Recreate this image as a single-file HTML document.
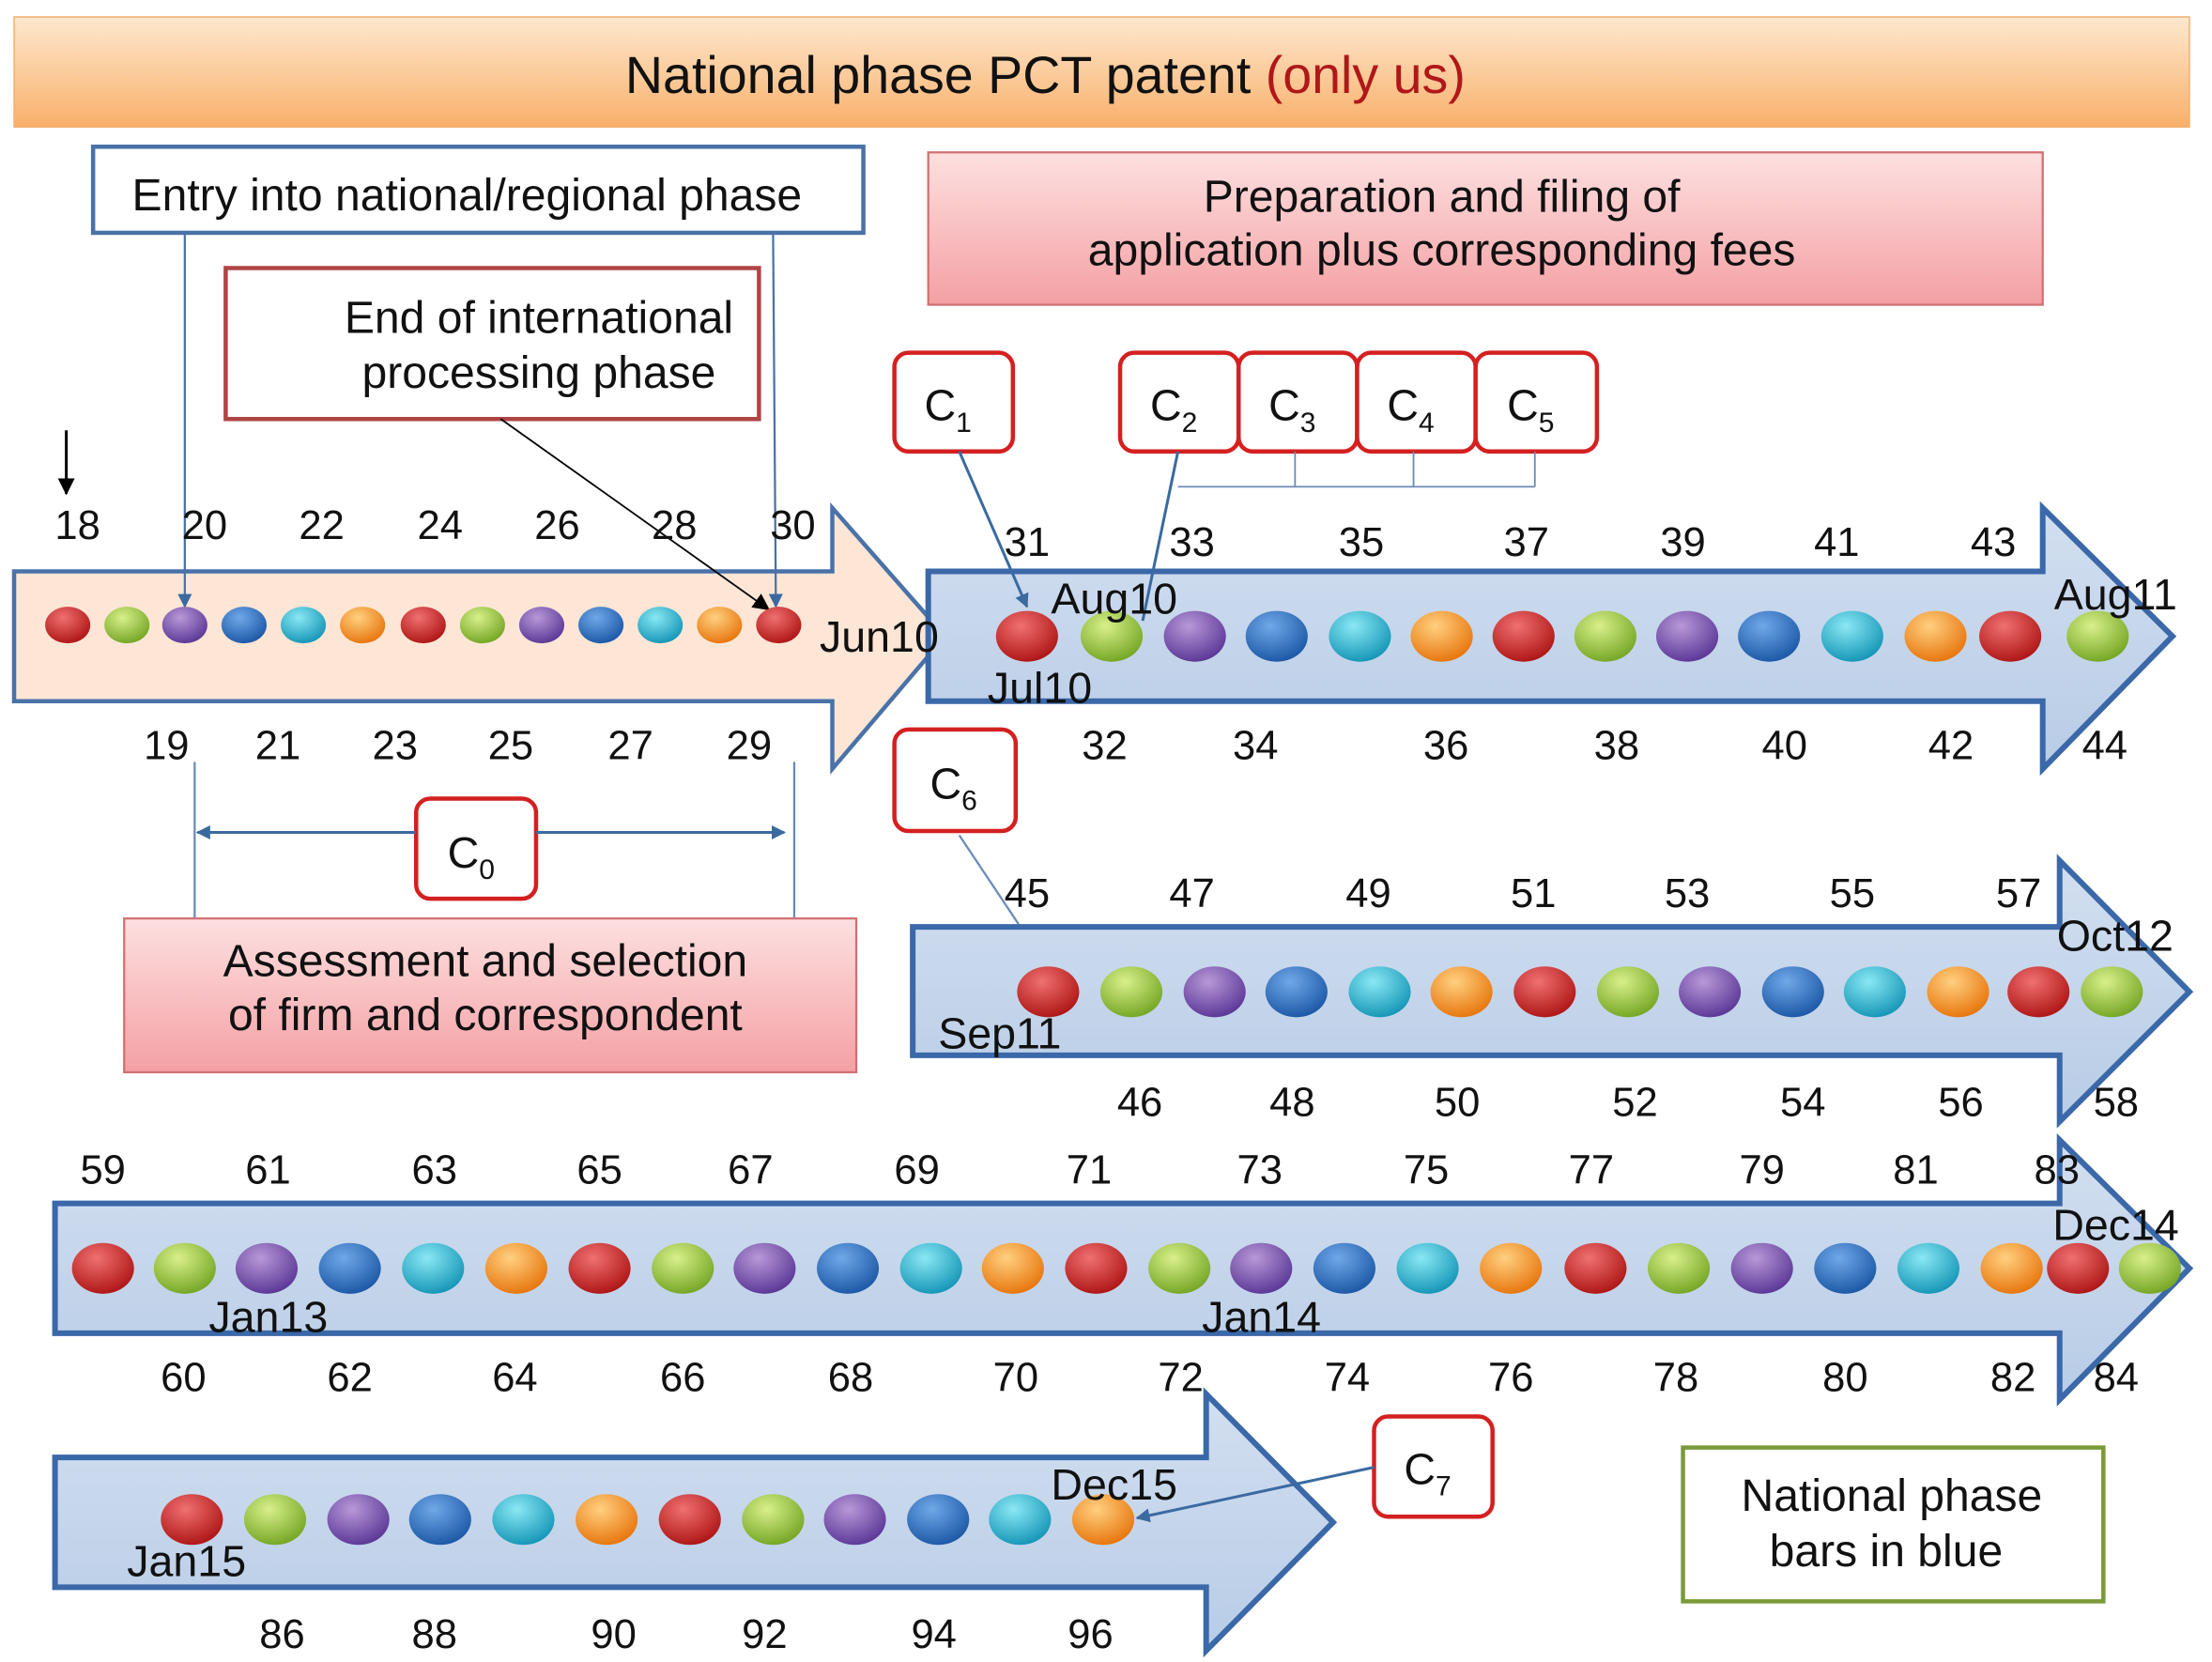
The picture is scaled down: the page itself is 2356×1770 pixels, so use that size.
<!DOCTYPE html>
<html><head><meta charset="utf-8"><style>
html,body{margin:0;padding:0;background:#fff}
svg{display:block}
text{font-family:"Liberation Sans",Arial,sans-serif;fill:#111}
</style></head><body>
<svg width="2356" height="1770" viewBox="0 0 1568 1178" preserveAspectRatio="none" xmlns="http://www.w3.org/2000/svg">
<defs>
<linearGradient id="tg" x1="0" y1="0" x2="0" y2="1"><stop offset="0" stop-color="#fde8d0"/><stop offset="1" stop-color="#f9b06a"/></linearGradient>
<linearGradient id="pg" x1="0" y1="0" x2="0" y2="1"><stop offset="0" stop-color="#fde0e0"/><stop offset="1" stop-color="#f4a0a4"/></linearGradient>
<linearGradient id="bg" x1="0" y1="0" x2="0" y2="1"><stop offset="0" stop-color="#d2dff0"/><stop offset="1" stop-color="#b8cce6"/></linearGradient>
<radialGradient id="cr" cx="0.4" cy="0.3" r="0.7"><stop offset="0" stop-color="#f07070"/><stop offset="1" stop-color="#b01818"/></radialGradient>
<radialGradient id="cg" cx="0.4" cy="0.3" r="0.7"><stop offset="0" stop-color="#d8f08a"/><stop offset="1" stop-color="#78a828"/></radialGradient>
<radialGradient id="cp" cx="0.4" cy="0.3" r="0.7"><stop offset="0" stop-color="#b898d8"/><stop offset="1" stop-color="#5e3a98"/></radialGradient>
<radialGradient id="cb" cx="0.4" cy="0.3" r="0.7"><stop offset="0" stop-color="#70a8e8"/><stop offset="1" stop-color="#1e5aa8"/></radialGradient>
<radialGradient id="cc" cx="0.4" cy="0.3" r="0.7"><stop offset="0" stop-color="#8ae8f4"/><stop offset="1" stop-color="#1898b8"/></radialGradient>
<radialGradient id="co" cx="0.4" cy="0.3" r="0.7"><stop offset="0" stop-color="#ffd080"/><stop offset="1" stop-color="#e87810"/></radialGradient>
<marker id="ah" markerWidth="10" markerHeight="10" refX="9" refY="5" orient="auto" markerUnits="userSpaceOnUse"><path d="M0,0 L10,5 L0,10 z" fill="#3a6aa0"/></marker>
<marker id="ak" markerWidth="12" markerHeight="12" refX="11" refY="6" orient="auto" markerUnits="userSpaceOnUse"><path d="M0,0 L12,6 L0,12 z" fill="#000"/></marker>
</defs>

<rect x="10" y="12" width="1542" height="78" fill="url(#tg)" stroke="#f0b070"/>
<text x="741" y="66" font-size="37" text-anchor="middle">National phase PCT patent <tspan fill="#b01818">(only us)</tspan></text>

<rect x="66" y="104" width="546" height="61" fill="#fff" stroke="#4a72a8" stroke-width="3"/>
<text x="331" y="149" font-size="32" text-anchor="middle">Entry into national/regional phase</text>
<rect x="658" y="108" width="790" height="108" fill="url(#pg)" stroke="#d07070" stroke-width="1.5"/>
<text x="1022" y="150" font-size="32" text-anchor="middle">Preparation and filing of</text>
<text x="1022" y="188" font-size="32" text-anchor="middle">application plus corresponding fees</text>
<rect x="160" y="190" width="378" height="107" fill="#fff" stroke="#b04444" stroke-width="3"/>
<text x="382" y="236" font-size="32" text-anchor="middle">End of international</text>
<text x="382" y="275" font-size="32" text-anchor="middle">processing phase</text>

<path d="M10,405 L590,405 L590,360 L670,451 L590,545 L590,497 L10,497 Z" fill="#fde6d6" stroke="#4a72a8" stroke-width="3"/>
<path d="M658,405 L1448,405 L1448,360 L1540,451 L1448,545 L1448,497 L658,497 Z" fill="url(#bg)" stroke="#3a68a8" stroke-width="4"/>
<path d="M647,657 L1460,657 L1460,610 L1552,703 L1460,795 L1460,748 L647,748 Z" fill="url(#bg)" stroke="#3a68a8" stroke-width="4"/>
<path d="M39,853 L1460,853 L1460,808 L1552,899 L1460,992 L1460,945 L39,945 Z" fill="url(#bg)" stroke="#3a68a8" stroke-width="4"/>
<path d="M39,1033 L855,1033 L855,988 L945,1079 L855,1170 L855,1125 L39,1125 Z" fill="url(#bg)" stroke="#3a68a8" stroke-width="4"/>

<line x1="131" y1="165" x2="131" y2="430" stroke="#4a72a8" stroke-width="1.5" marker-end="url(#ah)"/>
<line x1="548" y1="165" x2="550" y2="430" stroke="#4a72a8" stroke-width="1.5" marker-end="url(#ah)"/>
<line x1="355" y1="297" x2="545" y2="432" stroke="#000" stroke-width="1.2" marker-end="url(#ak)"/>
<line x1="47" y1="305" x2="47" y2="350" stroke="#000" stroke-width="2" marker-end="url(#ak)"/>

<g id="dots"></g>

<g fill="#fff" stroke="#d42020" stroke-width="3">
<rect x="634" y="250" width="84" height="70" rx="10"/>
<rect x="794" y="250" width="84" height="70" rx="10"/>
<rect x="878" y="250" width="84" height="70" rx="10"/>
<rect x="962" y="250" width="84" height="70" rx="10"/>
<rect x="1046" y="250" width="86" height="70" rx="10"/>
<rect x="634" y="517" width="86" height="72" rx="10"/>
<rect x="295" y="566" width="85" height="71" rx="10"/>
<rect x="974" y="1004" width="84" height="71" rx="10"/>
</g>
<g font-size="31" text-anchor="middle">
<text x="672" y="298">C<tspan font-size="20" dy="8">1</tspan></text>
<text x="832" y="298">C<tspan font-size="20" dy="8">2</tspan></text>
<text x="916" y="298">C<tspan font-size="20" dy="8">3</tspan></text>
<text x="1000" y="298">C<tspan font-size="20" dy="8">4</tspan></text>
<text x="1085" y="298">C<tspan font-size="20" dy="8">5</tspan></text>
<text x="676" y="566">C<tspan font-size="20" dy="8">6</tspan></text>
<text x="334" y="615">C<tspan font-size="20" dy="8">0</tspan></text>
<text x="1012" y="1052">C<tspan font-size="20" dy="8">7</tspan></text>
</g>
<line x1="680" y1="320" x2="728" y2="430" stroke="#3a6aa0" stroke-width="2" marker-end="url(#ah)"/>
<line x1="835" y1="320" x2="810" y2="440" stroke="#3a6aa0" stroke-width="2"/>
<path d="M835,345 L1088,345 M918,320 L918,345 M1002,320 L1002,345 M1088,320 L1088,345" stroke="#6a8ab8" stroke-width="1.2" fill="none"/>
<line x1="680" y1="592" x2="722" y2="655" stroke="#6a8ab8" stroke-width="1.5"/>
<line x1="974" y1="1040" x2="806" y2="1076" stroke="#3a6aa0" stroke-width="2" marker-end="url(#ah)"/>
<line x1="138" y1="540" x2="138" y2="662" stroke="#6a8ab8" stroke-width="1.5"/>
<line x1="563" y1="540" x2="563" y2="662" stroke="#6a8ab8" stroke-width="1.5"/>
<line x1="295" y1="590" x2="140" y2="590" stroke="#3a6aa0" stroke-width="2" marker-end="url(#ah)"/>
<line x1="380" y1="590" x2="556" y2="590" stroke="#3a6aa0" stroke-width="2" marker-end="url(#ah)"/>

<rect x="88" y="651" width="519" height="109" fill="url(#pg)" stroke="#d07070" stroke-width="1.5"/>
<text x="344" y="692" font-size="32" text-anchor="middle">Assessment and selection</text>
<text x="344" y="730" font-size="32" text-anchor="middle">of firm and correspondent</text>

<rect x="1193" y="1026" width="298" height="109" fill="#fff" stroke="#7a9a3a" stroke-width="3"/>
<text x="1341" y="1071" font-size="32" text-anchor="middle">National phase</text>
<text x="1337" y="1110" font-size="32" text-anchor="middle">bars in blue</text>

<g font-size="29" text-anchor="middle" id="nums"></g>
<g font-size="31">
<text x="581" y="462">Jun10</text>
<text x="745" y="435">Aug10</text>
<text x="700" y="498">Jul10</text>
<text x="1456" y="432">Aug11</text>
<text x="665" y="743">Sep11</text>
<text x="1458" y="674">Oct12</text>
<text x="148" y="944">Jan13</text>
<text x="852" y="944">Jan14</text>
<text x="1455" y="879">Dec14</text>
<text x="90" y="1117">Jan15</text>
<text x="745" y="1063">Dec15</text>
</g>
</svg>
<script>
(function(){
var ns="http://www.w3.org/2000/svg";
var cols=["cr","cg","cp","cb","cc","co"];
var g=document.getElementById("dots");
function row(xs,y,rx,ry){xs.forEach(function(x,i){var e=document.createElementNS(ns,"ellipse");e.setAttribute("cx",x);e.setAttribute("cy",y);e.setAttribute("rx",rx);e.setAttribute("ry",ry);e.setAttribute("fill","url(#"+cols[i%6]+")");g.appendChild(e);});}
row([48,90,131,173,215,257,300,342,384,426,468,510,552],443,16,13);
row([728,788,847,905,964,1022,1080,1138,1196,1254,1313,1372,1425,1487],451,22,18);
row([743,802,861,919,978,1036,1095,1154,1212,1271,1329,1388,1445,1497],703,22,18);
row([73,131,189,248,307,366,425,484,542,601,660,718,777,836,894,953,1012,1071,1131,1190,1249,1308,1367,1426,1473,1524],899,22,18);
row([136,195,254,312,371,430,489,548,606,665,723,782],1077,22,18);
var n=document.getElementById("nums");
function t(list,y){list.forEach(function(p){var e=document.createElementNS(ns,"text");e.setAttribute("x",p[1]);e.setAttribute("y",y);e.textContent=p[0];n.appendChild(e);});}
t([[18,55],[20,145],[22,228],[24,312],[26,395],[28,478],[30,562]],382);
t([[19,118],[21,197],[23,280],[25,362],[27,447],[29,531]],538);
t([[31,728],[33,845],[35,965],[37,1082],[39,1193],[41,1302],[43,1413]],394);
t([[32,783],[34,890],[36,1025],[38,1146],[40,1265],[42,1383],[44,1492]],538);
t([[45,728],[47,845],[49,970],[51,1087],[53,1196],[55,1313],[57,1431]],643);
t([[46,808],[48,916],[50,1033],[52,1159],[54,1278],[56,1390],[58,1500]],791);
t([[59,73],[61,190],[63,308],[65,425],[67,532],[69,650],[71,772],[73,893],[75,1011],[77,1128],[79,1249],[81,1358],[83,1458]],839);
t([[60,130],[62,248],[64,365],[66,484],[68,603],[70,720],[72,837],[74,955],[76,1071],[78,1188],[80,1308],[82,1427],[84,1500]],986);
t([[86,200],[88,308],[90,435],[92,542],[94,662],[96,773]],1168);
})();
</script>
</body></html>
